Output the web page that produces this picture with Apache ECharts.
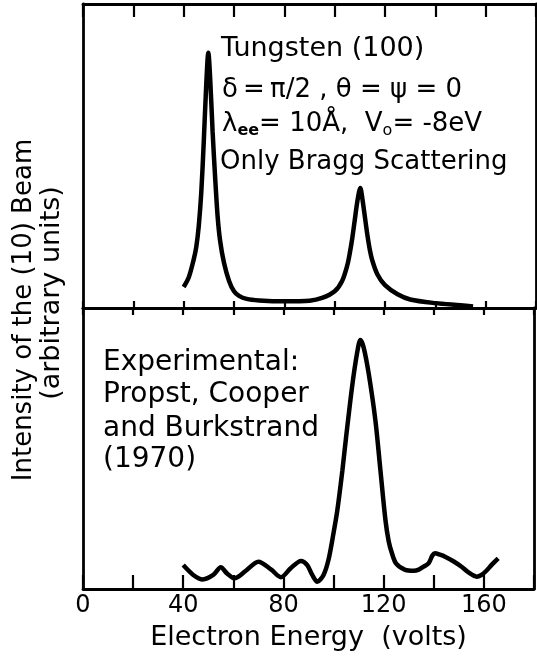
<!DOCTYPE html>
<html>
<head>
<meta charset="utf-8">
<script src="https://cdn.jsdelivr.net/npm/echarts@6/dist/echarts.min.js"></script>
<style>
html,body{margin:0;padding:0;background:#fff;}
#chart{width:537px;height:658px;}
</style>
</head>
<body>
<div id="chart"></div>
<script>
// Upper panel: calculated (only Bragg scattering)
var simEnergy = [40, 42, 44, 45, 46, 47, 48, 49, 49.8, 50.5, 51.5, 52.5, 53.5, 54.5, 56, 58, 60, 62, 65, 70, 80, 90, 95, 100, 103, 105, 106, 107, 108, 109, 110.2, 111, 112, 113, 114, 115, 117, 120, 125, 130, 140, 150, 155];
var simIntensity = [6.9, 10, 16, 20, 27, 38, 55, 74, 84, 76, 58, 43, 30, 22, 15, 9, 5.5, 4, 3, 2.5, 2.2, 2.4, 3.3, 5.5, 9, 14, 18, 23, 29, 35, 39.5, 36, 30, 24, 19, 15.5, 11, 7.5, 4.5, 2.8, 1.6, 0.9, 0.5];
// Lower panel: experimental (Propst, Cooper and Burkstrand 1970)
var expEnergy = [40, 44, 47.8, 52, 55, 57.5, 60.4, 65, 70, 75, 79, 83, 87, 89.5, 91.5, 93.5, 96, 98, 100, 101.5, 103.5, 105, 107.4, 109.4, 110.7, 112, 114, 116.7, 118.7, 120.7, 122, 123.3, 125, 128.6, 132, 134, 136, 137.9, 139.5, 140.5, 142.5, 144.5, 148, 151.1, 154, 157.1, 159, 161, 163, 165.7];
var expIntensity = [8.5, 5, 3.4, 5, 7.7, 5.5, 3.8, 6.5, 9.7, 7, 4.2, 7.5, 10, 8.5, 5, 2.6, 5, 10.5, 20, 28, 42, 54, 72, 84, 88.6, 86, 76.8, 60, 42.3, 24.6, 17, 12.7, 9, 6.8, 6.5, 6.9, 8, 9.1, 12, 12.7, 12.2, 11.5, 9.8, 7.9, 5.8, 4.4, 5, 6.5, 8.5, 10.9];
// Axis
var xMin = 0, xMax = 180, xStep = 20;
var xLabelValues = [0, 40, 80, 120, 160];

function zip(a, b) { return a.map(function (v, i) { return [v, b[i]]; }); }

var FONT = '"DejaVu Sans", sans-serif';
var chart = echarts.init(document.getElementById('chart'), null, {renderer: 'canvas'});

function xAx(grid, pos, tickLen, labels) {
  var ax = {
    type: 'value', gridIndex: grid, position: pos, min: xMin, max: xMax, interval: xStep,
    axisLine: {show: true, onZero: false, lineStyle: {color: '#000', width: 2.8}},
    axisTick: {show: true, inside: true, length: tickLen, lineStyle: {color: '#000', width: 2.2}},
    splitLine: {show: false},
    axisLabel: labels ? {
      show: true, color: '#000', fontFamily: FONT, fontSize: 24, margin: 5,
      formatter: function (v) { return xLabelValues.indexOf(v) >= 0 ? String(v) : ''; }
    } : {show: false}
  };
  if (labels) {
    ax.name = 'Electron Energy  (volts)';
    ax.nameLocation = 'middle';
    ax.nameGap = 35;
    ax.nameTextStyle = {color: '#000', fontFamily: FONT, fontSize: 27};
  }
  return ax;
}
function yAx(grid, pos) {
  return {
    type: 'value', gridIndex: grid, position: pos, min: 0, max: 100,
    axisLine: {show: true, onZero: false, lineStyle: {color: '#000', width: 2.8}},
    axisTick: {show: false}, axisLabel: {show: false}, splitLine: {show: false}
  };
}

function label(txt, x, y, size) {
  return {type: 'text', x: x, y: y,
    style: {text: txt, font: (size || 26) + 'px ' + FONT, fill: '#000', align: 'left', verticalAlign: 'middle'}};
}

var option = {
  backgroundColor: '#fff',
  animation: false,
  grid: [
    {left: 83, right: 1, top: 4, height: 304},
    {left: 83, right: 1, top: 308, height: 281}
  ],
  xAxis: [xAx(0, 'bottom', 7, false), xAx(0, 'top', 13, false), xAx(1, 'top', 7, false), xAx(1, 'bottom', 14, true)],
  yAxis: [yAx(0, 'left'), yAx(0, 'right'), yAx(1, 'left'), yAx(1, 'right')],
  series: [
    {type: 'line', xAxisIndex: 0, yAxisIndex: 0, data: zip(simEnergy, simIntensity), showSymbol: false, smooth: 0.3,
     lineStyle: {color: '#000', width: 4.5}},
    {type: 'line', xAxisIndex: 3, yAxisIndex: 2, data: zip(expEnergy, expIntensity), showSymbol: false, smooth: 0.3,
     lineStyle: {color: '#000', width: 4.5}}
  ],
  graphic: [
    {type: 'text', x: 24, y: 310, rotation: Math.PI / 2,
     style: {text: 'Intensity of the (10) Beam', font: '26px ' + FONT, fill: '#000', align: 'center', verticalAlign: 'middle'}},
    {type: 'text', x: 52, y: 293, rotation: Math.PI / 2,
     style: {text: '(arbitrary units)', font: '27px ' + FONT, fill: '#000', align: 'center', verticalAlign: 'middle'}},
    label('Tungsten (100)', 221, 49, 27),
    label('δ\u2009=\u2009π/2 , θ = ψ = 0', 222, 90),
    {type: 'text', x: 222, y: 124, style: {
      text: '{n|λ}{s|ee}{n|= 10Å,  V}{o|o}{n|= -8eV}',
      fill: '#000', align: 'left', verticalAlign: 'middle',
      rich: {
        n: {font: '26px ' + FONT, fill: '#000', lineHeight: 30},
        s: {font: 'bold 16px ' + FONT, fill: '#000', lineHeight: 12, verticalAlign: 'bottom'},
        o: {font: '16px ' + FONT, fill: '#000', lineHeight: 20, verticalAlign: 'bottom'}
      }
    }},
    label('Only Bragg Scattering', 220, 162),
    label('Experimental:', 103, 363, 28),
    label('Propst, Cooper', 103, 395, 28),
    label('and Burkstrand', 103, 429, 28),
    label('(1970)', 103, 460, 28)
  ]
};
chart.setOption(option);
</script>
</body>
</html>
